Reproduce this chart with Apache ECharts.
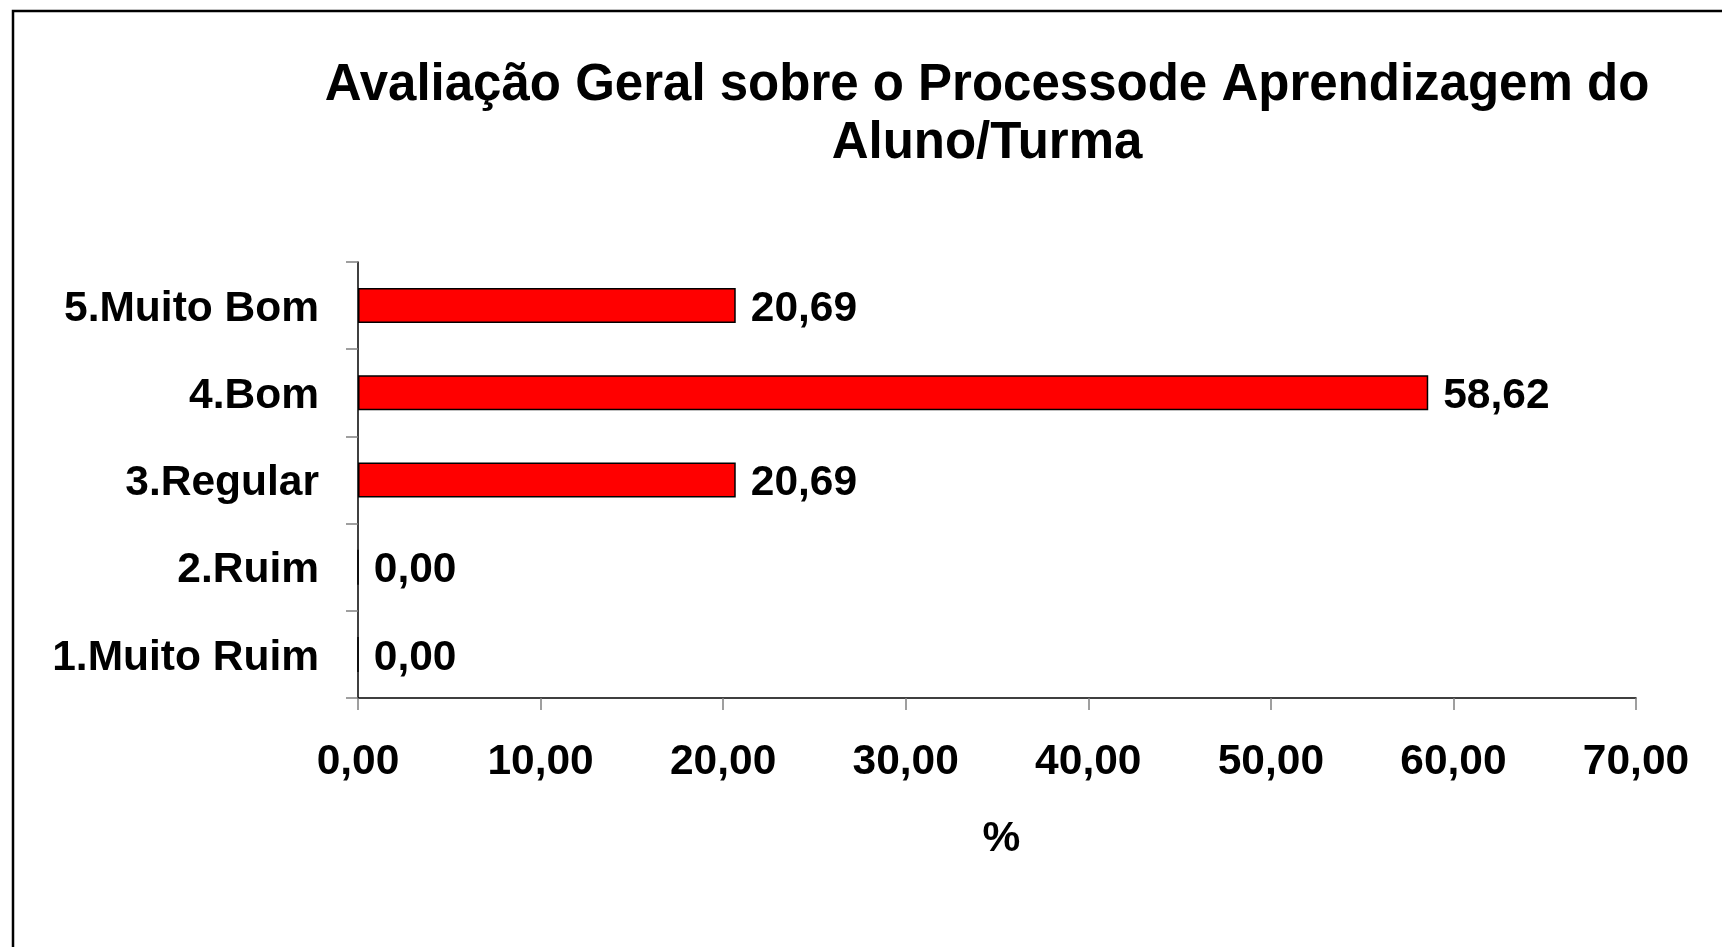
<!DOCTYPE html>
<html>
<head>
<meta charset="utf-8">
<script src="https://cdn.jsdelivr.net/npm/echarts@6/dist/echarts.min.js"></script>
<style>html,body{margin:0;padding:0;background:#fff;}#c{width:1722px;height:947px;}</style>
</head>
<body>
<div id="c"></div>
<script>
const titleText = 'Avaliação Geral sobre o Processode Aprendizagem do\nAluno/Turma';
const categories = ['1.Muito Ruim', '2.Ruim', '3.Regular', '4.Bom', '5.Muito Bom'];
const values = [0.00, 0.00, 20.69, 58.62, 20.69];
const xTicks = { min: 0, max: 70, interval: 10 };
const axisName = '%';

const FONT = "'Liberation Sans', Arial, Helvetica, sans-serif";
const FS = 42.5;
const fmt = v => Number(v).toFixed(2).replace('.', ',');

const chart = echarts.init(document.getElementById('c'), null, { renderer: 'canvas' });
chart.setOption({
  backgroundColor: '#ffffff',
  animation: false,
  graphic: [{
    type: 'rect',
    shape: { x: 13, y: 11, width: 2000, height: 2000 },
    style: { fill: 'none', stroke: '#000', lineWidth: 2.5 },
    silent: true
  }],
  title: {
    text: titleText,
    left: 982,
    top: 52,
    textAlign: 'center',
    textStyle: { fontFamily: FONT, fontSize: 51, fontWeight: 'bold', color: '#000', lineHeight: 58 }
  },
  grid: { left: 358, right: 86, top: 262, bottom: 249, containLabel: false },
  xAxis: {
    type: 'value',
    min: xTicks.min, max: xTicks.max, interval: xTicks.interval,
    name: axisName,
    nameLocation: 'middle',
    nameGap: 120,
    nameTextStyle: { fontFamily: FONT, fontSize: FS, fontWeight: 'bold', color: '#000', padding: [0, 0, 0, 9] },
    axisLine: { show: true, lineStyle: { color: '#000', width: 1.5 } },
    axisTick: { show: true, length: 12, lineStyle: { color: '#808080', width: 1.5 } },
    splitLine: { show: false },
    axisLabel: { margin: 43, fontFamily: FONT, fontSize: FS, fontWeight: 'bold', color: '#000', formatter: fmt }
  },
  yAxis: {
    type: 'category',
    data: categories,
    axisLine: { show: true, lineStyle: { color: '#000', width: 1.5 } },
    axisTick: { show: true, length: 12, lineStyle: { color: '#808080', width: 1.5 } },
    splitLine: { show: false },
    axisLabel: { margin: 39, verticalAlign: 'top', lineHeight: 7, fontFamily: FONT, fontSize: FS, fontWeight: 'bold', color: '#000' }
  },
  series: [{
    type: 'bar',
    data: values,
    barWidth: 35,
    itemStyle: { color: '#ff0000', borderColor: '#000', borderWidth: 1.5 },
    label: {
      show: true, position: 'right', distance: 15, offset: [0, 3.5],
      fontFamily: FONT, fontSize: FS, fontWeight: 'bold', color: '#000',
      formatter: p => fmt(p.value)
    }
  }]
});
</script>
</body>
</html>
